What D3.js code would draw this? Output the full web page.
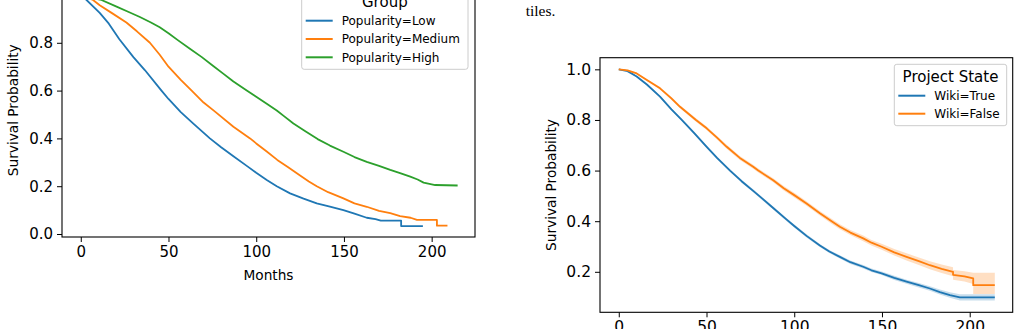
<!DOCTYPE html>
<html>
<head>
<meta charset="utf-8">
<script src="https://cdn.jsdelivr.net/npm/d3@7"></script>
<style>
  html, body { margin: 0; padding: 0; background: #fff; }
  svg { display: block; }
  text { font-family: "DejaVu Sans", sans-serif; fill: #000; }
</style>
</head>
<body>
<svg id="chart" width="1020" height="329"></svg>
<script>
// ---------- DATA ----------
// Left panel: [month, survival]
const popularityLow = [[0,1.0],[3.3,0.979],[10.8,0.925],[16,0.88],[22,0.815],[30,0.74],[36.5,0.686],[46,0.6],[50,0.565],[57,0.51],[64,0.463],[73.6,0.4],[80,0.363],[87,0.325],[95,0.283],[100,0.256],[106,0.226],[111.7,0.2],[119.3,0.17],[127,0.148],[134.5,0.128],[142,0.115],[149.7,0.1],[156,0.085],[163,0.068],[168,0.062],[171,0.056],[182.6,0.056],[182.6,0.033],[195,0.033]];
const popularityMedium = [[0,1.0],[7,0.979],[10.8,0.957],[18,0.923],[26,0.885],[32,0.848],[39.4,0.8],[45,0.75],[50,0.7],[57,0.645],[63.2,0.6],[70,0.55],[76,0.515],[87,0.449],[96.5,0.4],[100,0.379],[106,0.345],[112,0.31],[118,0.28],[125,0.245],[130,0.22],[134.5,0.2],[141,0.175],[149.7,0.149],[156,0.128],[163,0.114],[170,0.097],[176.4,0.087],[182,0.075],[188,0.068],[191.6,0.059],[203,0.059],[203,0.035],[209,0.035]];
const popularityHigh = [[0,1.0],[5,0.99],[11.8,0.979],[20.4,0.951],[27,0.93],[33.7,0.908],[40,0.885],[45,0.865],[50,0.84],[55.5,0.81],[62.2,0.775],[69,0.74],[75.5,0.703],[81,0.672],[87,0.638],[94.6,0.6],[100,0.574],[106,0.545],[111.7,0.517],[116,0.492],[121.2,0.462],[128,0.43],[135,0.397],[142,0.37],[149.7,0.344],[156,0.322],[163,0.302],[170,0.285],[176.4,0.268],[182,0.255],[187.8,0.24],[192,0.228],[195.4,0.215],[202,0.205],[214.8,0.203]];
const groupLabels = ["Popularity=Low","Popularity=Medium","Popularity=High"];

// Right panel: [month, survival, ciLower, ciUpper]
const wikiTrue = [[0,1.0,1.0,1.0],[5,0.993,0.991,0.995],[10.2,0.972,0.969,0.975],[16,0.94,0.937,0.943],[23.5,0.892,0.888,0.896],[30,0.842,0.838,0.846],[35.9,0.8,0.796,0.804],[43,0.748,0.743,0.753],[50.1,0.694,0.689,0.699],[56,0.65,0.645,0.655],[63.4,0.6,0.595,0.605],[70,0.558,0.552,0.564],[76.6,0.52,0.514,0.526],[82,0.488,0.482,0.494],[88,0.452,0.446,0.458],[95.7,0.406,0.4,0.412],[100,0.381,0.375,0.387],[107,0.342,0.336,0.348],[114.6,0.304,0.298,0.31],[120,0.28,0.274,0.286],[126,0.259,0.253,0.265],[132,0.238,0.231,0.245],[139.3,0.22,0.213,0.227],[144,0.206,0.199,0.213],[149.8,0.194,0.187,0.201],[157,0.176,0.168,0.184],[164,0.161,0.153,0.169],[171,0.147,0.138,0.156],[177.3,0.134,0.125,0.143],[183,0.12,0.11,0.13],[188.7,0.108,0.097,0.119],[194.4,0.099,0.087,0.111],[214.3,0.099,0.087,0.111]];
const wikiFalse = [[0,1.0,1.0,1.0],[5,0.996,0.994,0.998],[10.2,0.984,0.981,0.987],[16,0.958,0.954,0.962],[23.5,0.925,0.92,0.93],[30,0.885,0.879,0.891],[34.9,0.852,0.846,0.858],[44,0.8,0.793,0.807],[50.1,0.767,0.76,0.774],[56,0.73,0.723,0.737],[61.5,0.694,0.686,0.702],[69,0.65,0.642,0.658],[76.6,0.615,0.607,0.623],[79.5,0.6,0.592,0.608],[88,0.562,0.554,0.57],[94,0.53,0.521,0.539],[100,0.503,0.494,0.512],[107,0.47,0.461,0.479],[114.6,0.431,0.422,0.44],[121.3,0.4,0.39,0.41],[126,0.378,0.368,0.388],[132,0.355,0.345,0.365],[139.3,0.332,0.321,0.343],[144,0.315,0.304,0.326],[149.8,0.299,0.287,0.311],[157,0.277,0.264,0.29],[164,0.259,0.245,0.273],[171,0.242,0.227,0.257],[177.3,0.226,0.21,0.242],[184,0.212,0.195,0.229],[190.5,0.2,0.182,0.218],[190.5,0.188,0.169,0.207],[197,0.182,0.162,0.202],[202,0.174,0.152,0.196],[202,0.147,0.112,0.196],[214.3,0.147,0.112,0.196]];
const stateLabels = ["Wiki=True","Wiki=False"];

const xTicks = [0,50,100,150,200];
const yTicksLeft = [0.0,0.2,0.4,0.6,0.8,1.0];
const yTicksRight = [0.2,0.4,0.6,0.8,1.0];

const COLORS = ["#1f77b4","#ff7f0e","#2ca02c"];
const svg = d3.select("#chart");

// ---------- helper: axes box ----------
function drawAxes(g, x, y, yTicks, fmtY, box, opts) {
  g.append("g").attr("transform", `translate(${box.l},0)`)
    .call(d3.axisLeft(y).tickValues(yTicks).tickFormat(fmtY).tickSize(5).tickPadding(4))
    .call(a => { a.select(".domain").remove(); a.selectAll("line").attr("stroke","#000").attr("stroke-width",1);
                 a.selectAll("text").style("font-size", opts.tick + "px").attr("fill","#000").style("font-family","DejaVu Sans"); });
  g.append("g").attr("transform", `translate(0,${box.b})`)
    .call(d3.axisBottom(x).tickValues(xTicks).tickFormat(d3.format("d")).tickSize(5).tickPadding(4))
    .call(a => { a.select(".domain").remove(); a.selectAll("line").attr("stroke","#000").attr("stroke-width",1);
                 a.selectAll("text").style("font-size", opts.tick + "px").attr("fill","#000").style("font-family","DejaVu Sans"); });
  g.append("rect").attr("x", box.l).attr("y", box.t).attr("width", box.r - box.l).attr("height", box.b - box.t)
    .attr("fill","none").attr("stroke","#000").attr("stroke-width",1.1);
}

function legend(g, x0, y0, w, h, title, labels, colors, rowY, titleY) {
  g.append("rect").attr("x", x0).attr("y", y0).attr("width", w).attr("height", h)
    .attr("rx", 2.5).attr("fill","#fff").attr("fill-opacity",0.85).attr("stroke","#cccccc").attr("stroke-width",1);
  g.append("text").attr("x", x0 + w/2).attr("y", titleY).attr("text-anchor","middle")
    .style("font-size","15px").text(title);
  labels.forEach((lab, i) => {
    const yy = rowY[i];
    g.append("line").attr("x1", x0 + 4).attr("x2", x0 + 31).attr("y1", yy).attr("y2", yy)
      .attr("stroke", colors[i]).attr("stroke-width", 2);
    g.append("text").attr("x", x0 + 40).attr("y", yy).attr("dy","0.35em")
      .style("font-size","12px").text(lab);
  });
}

// ---------- LEFT PANEL ----------
{
  const box = {l:62, r:475, t:-16.5, b:237};
  const x = d3.scaleLinear().domain([-10.7, 224.7]).range([box.l, box.r]);
  const y = d3.scaleLinear().domain([-0.0125, 1.048]).range([box.b, box.t]);
  const g = svg.append("g");
  const line = d3.line().x(d => x(d[0])).y(d => y(d[1]));
  [popularityLow, popularityMedium, popularityHigh].forEach((s, i) => {
    g.append("path").attr("d", line(s)).attr("fill","none").attr("stroke", COLORS[i])
      .attr("stroke-width",1.8).attr("stroke-linejoin","round");
  });
  drawAxes(g, x, y, yTicksLeft, d3.format(".1f"), box, {tick:15});
  g.append("text").attr("x", (box.l+box.r)/2).attr("y", 275).attr("dy","0.35em")
    .attr("text-anchor","middle").style("font-size","13.7px").text("Months");
  g.append("text").attr("transform", `translate(13.3,${(box.t+box.b)/2}) rotate(-90)`).attr("dy","0.35em")
    .attr("text-anchor","middle").style("font-size","13.7px").text("Survival Probability");
  legend(g, 301.7, -10.7, 166.3, 80, "Group", groupLabels, COLORS, [20.7,39,57.3], 6.5);
}

// ---------- caption fragment ----------
svg.append("text").attr("x", 525.7).attr("y", 15.5)
  .style("font-family","'Liberation Serif', 'Times New Roman', serif").style("font-size","15.5px").attr("fill","#111")
  .text("tiles.");

// ---------- RIGHT PANEL ----------
{
  const box = {l:600, r:1012.7, t:57.7, b:312.3};
  const x = d3.scaleLinear().domain([-10.7, 224.5]).range([box.l, box.r]);
  const y = d3.scaleLinear().domain([0.04, 1.046]).range([box.b, box.t]);
  const g = svg.append("g");
  const area = d3.area().x(d => x(d[0])).y0(d => y(d[2])).y1(d => y(d[3]));
  const line = d3.line().x(d => x(d[0])).y(d => y(d[1]));
  [wikiTrue, wikiFalse].forEach((s, i) => {
    g.append("path").attr("d", area(s)).attr("fill", COLORS[i]).attr("fill-opacity", 0.25).attr("stroke","none");
  });
  [wikiTrue, wikiFalse].forEach((s, i) => {
    g.append("path").attr("d", line(s)).attr("fill","none").attr("stroke", COLORS[i])
      .attr("stroke-width",1.8).attr("stroke-linejoin","round");
  });
  drawAxes(g, x, y, yTicksRight, d3.format(".1f"), box, {tick:15.5});
  g.append("text").attr("transform", `translate(551.7,${(box.t+box.b)/2}) rotate(-90)`).attr("dy","0.35em")
    .attr("text-anchor","middle").style("font-size","13.7px").text("Survival Probability");
  legend(g, 894.3, 64.3, 112.4, 61.4, "Project State", stateLabels, COLORS, [95.7,113.7], 81.5);
}
</script>
</body>
</html>
